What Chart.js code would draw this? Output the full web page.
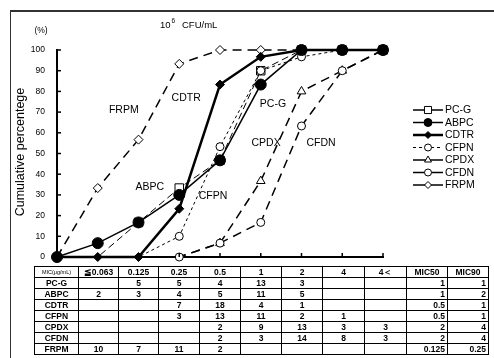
<!DOCTYPE html>
<html>
<head>
<meta charset="utf-8">
<script src="https://cdn.jsdelivr.net/npm/chart.js@4.4.1/dist/chart.umd.min.js"></script>
<style>
  html, body { margin: 0; padding: 0; background: #fff; }
  #wrap { position: relative; width: 494px; height: 358px; overflow: hidden; font-family: "Liberation Sans", Arial, sans-serif; }
  #frame { position: absolute; left: 10px; top: 10px; width: 500px; height: 400px; border-top: 2px solid #333; border-left: 1px solid #333; }
  canvas { position: absolute; left: 0; top: 0; }
  #tbl { position: absolute; left: 34px; top: 266px; border-collapse: collapse; table-layout: fixed; font-size: 8.5px; font-weight: bold; color: #000; }
  #tbl td { border: 1px solid #000; height: 10px; padding: 0; line-height: 10px; text-align: center; white-space: nowrap; overflow: hidden; }
  #tbl td.r { text-align: right; padding-right: 2px; }
  #tbl td.h0 { font-size: 5.5px; font-weight: normal; }
</style>
</head>
<body>
<div id="wrap">
  <div id="frame"></div>
  <canvas id="c" width="494" height="358"></canvas>
  <table id="tbl"></table>
</div>
<script>
// MIC steps on the x axis (first slot is the origin)
const mics = ['', '≦0.063', '0.125', '0.25', '0.5', '1', '2', '4', '4＜'];
const drugs = ['PC-G', 'ABPC', 'CDTR', 'CFPN', 'CPDX', 'CFDN', 'FRPM'];

// cumulative percentage (%)
const pcg  = [0, 0, 16.7, 33.3, 46.7, 90, 100, 100, 100];
const abpc = [0, 6.7, 16.7, 30, 46.7, 83.3, 100, 100, 100];
const cdtr = [0, 0, 0, 23.3, 83.3, 96.7, 100, 100, 100];
const cfpn = [0, 0, 0, 10, 53.3, 90, 96.7, 100, 100];
const cpdx = [0, 0, 0, 0, 6.7, 36.7, 80, 90, 100];
const cfdn = [0, 0, 0, 0, 6.7, 16.7, 63.3, 90, 100];
const frpm = [0, 33.3, 56.7, 93.3, 100, 100, 100, 100, 100];

// number of strains per MIC (table)
const nPCG  = ['', 5, 5, 4, 13, 3, '', ''];
const nABPC = [2, 3, 4, 5, 11, 5, '', ''];
const nCDTR = ['', '', 7, 18, 4, 1, '', ''];
const nCFPN = ['', '', 3, 13, 11, 2, 1, ''];
const nCPDX = ['', '', '', 2, 9, 13, 3, 3];
const nCFDN = ['', '', '', 2, 3, 14, 8, 3];
const nFRPM = [10, 7, 11, 2, '', '', '', ''];
const mic50 = ['1', '1', '0.5', '0.5', '2', '2', '0.125'];
const mic90 = ['1', '2', '1', '1', '4', '4', '0.25'];

const yTicks = [0, 10, 20, 30, 40, 50, 60, 70, 80, 90, 100];

// table
const counts = [nPCG, nABPC, nCDTR, nCFPN, nCPDX, nCFDN, nFRPM];
const widths = [44, 40, 40, 41, 41, 41, 41, 42, 42, 41, 41];
const tbl = document.getElementById('tbl');
let html = '<colgroup>' + widths.map(w => `<col style="width:${w}px">`).join('') + '</colgroup>';
html += '<tr><td class="h0">MIC(μg/mL)</td>' + mics.slice(1).map(m => `<td>${m}</td>`).join('') +
        '<td>MIC50</td><td>MIC90</td></tr>';
drugs.forEach((d, i) => {
  html += `<tr><td>${d}</td>` + counts[i].map(v => `<td>${v}</td>`).join('') +
          `<td class="r">${mic50[i]}</td><td class="r">${mic90[i]}</td></tr>`;
});
tbl.innerHTML = html;

function radii(r, hidden) {
  return mics.map((_, i) => hidden.includes(i) ? 0 : r);
}

const datasets = [
  { label: 'ABPC', data: abpc, order: -3, borderColor: '#000', borderWidth: 1.5,
    pointStyle: 'circle', pointRadius: 5.5, pointBackgroundColor: '#000', pointBorderColor: '#000' },
  { label: 'CFPN', data: cfpn, order: -2, borderColor: '#000', borderWidth: 1, borderDash: [3, 3],
    pointStyle: 'circle', pointRadius: radii(4, [0, 1, 2]), pointBackgroundColor: '#fff', pointBorderColor: '#000' },
  { label: 'PC-G', data: pcg, order: -1, borderColor: '#000', borderWidth: 1, borderDash: [7, 4],
    pointStyle: 'rect', pointRadius: radii(6, [0, 1]), pointBackgroundColor: '#fff', pointBorderColor: '#000' },
  { label: 'CDTR', data: cdtr, borderColor: '#000', borderWidth: 2.5,
    pointStyle: 'rectRot', pointRadius: radii(4.5, [0]), pointBackgroundColor: '#000', pointBorderColor: '#000' },
  { label: 'CFDN', data: cfdn, borderColor: '#000', borderWidth: 1.5, borderDash: [9, 6],
    pointStyle: 'circle', pointRadius: radii(4, [0, 1, 2]), pointBackgroundColor: '#fff', pointBorderColor: '#000' },
  { label: 'CPDX', data: cpdx, borderColor: '#000', borderWidth: 1.5, borderDash: [9, 6],
    pointStyle: 'triangle', pointRadius: radii(5, [0, 1, 2, 3]), pointBackgroundColor: '#fff', pointBorderColor: '#000' },
  { label: 'FRPM', data: frpm, borderColor: '#000', borderWidth: 1.5, borderDash: [9, 6],
    pointStyle: 'rectRot', pointRadius: radii(4.5, [0]), pointBackgroundColor: '#fff', pointBorderColor: '#000' }
];
datasets.forEach(d => { d.pointBorderWidth = 1; d.tension = 0; d.clip = false; d.fill = false; });

// legend drawn like the original: short line + marker + name
const legendItems = [
  { label: 'PC-G', style: 'rect', r: 5, fill: '#fff', lw: 1.5, dash: [] },
  { label: 'ABPC', style: 'circle', r: 4, fill: '#000', lw: 1.5, dash: [] },
  { label: 'CDTR', style: 'rectRot', r: 3.5, fill: '#000', lw: 2.5, dash: [] },
  { label: 'CFPN', style: 'circle', r: 3.5, fill: '#fff', lw: 1, dash: [3, 3] },
  { label: 'CPDX', style: 'triangle', r: 4, fill: '#fff', lw: 1.5, dash: [] },
  { label: 'CFDN', style: 'circle', r: 3.5, fill: '#fff', lw: 1.5, dash: [] },
  { label: 'FRPM', style: 'rectRot', r: 3.5, fill: '#fff', lw: 1.5, dash: [] }
];

// curve names written inside the plot: [text, x slot, y value]
const curveNames = [
  ['FRPM', 1.64, 71], ['CDTR', 3.17, 77], ['PC-G', 5.3, 74], ['CPDX', 5.13, 55],
  ['CFDN', 6.48, 55], ['ABPC', 2.28, 34], ['CFPN', 3.83, 29.5]
];

const extras = {
  id: 'extras',
  afterDraw(chart) {
    const ctx = chart.ctx;
    const xs = chart.scales.x, ys = chart.scales.y;
    const area = chart.chartArea;
    ctx.save();
    ctx.strokeStyle = '#000';
    ctx.lineWidth = 1.5;
    // inward tick marks
    yTicks.forEach(v => {
      const y = ys.getPixelForValue(v);
      ctx.beginPath(); ctx.moveTo(area.left, y); ctx.lineTo(area.left + 4, y); ctx.stroke();
    });
    mics.forEach((m, i) => {
      if (i === 0) return;
      const x = xs.getPixelForValue(i);
      ctx.beginPath(); ctx.moveTo(x, area.bottom); ctx.lineTo(x, area.bottom - 4); ctx.stroke();
    });

    ctx.fillStyle = '#000';
    ctx.textBaseline = 'middle';
    ctx.textAlign = 'center';
    ctx.font = '10.5px "Liberation Sans", Arial, sans-serif';
    curveNames.forEach(([t, xi, yv]) => {
      ctx.fillText(t, xs.getPixelForValue(xi), ys.getPixelForValue(yv));
    });

    // headers
    ctx.font = '8.5px "Liberation Sans", Arial, sans-serif';
    ctx.fillText('(%)', 41, 31);
    ctx.textAlign = 'left';
    ctx.font = '9.5px "Liberation Sans", Arial, sans-serif';
    ctx.fillText('10', 160, 25);
    ctx.font = '6.5px "Liberation Sans", Arial, sans-serif';
    ctx.fillText('6', 171.5, 21.5);
    ctx.font = '9.5px "Liberation Sans", Arial, sans-serif';
    ctx.fillText('CFU/mL', 182, 25);

    // y title
    ctx.save();
    ctx.translate(21, 152);
    ctx.rotate(-Math.PI / 2);
    ctx.textAlign = 'center';
    ctx.font = '12.5px "Liberation Sans", Arial, sans-serif';
    ctx.fillText('Cumulative percentege', 0, 0);
    ctx.restore();

    // legend
    ctx.font = '10.5px "Liberation Sans", Arial, sans-serif';
    ctx.textAlign = 'left';
    legendItems.forEach((it, i) => {
      const y = 110 + i * 12.5;
      ctx.setLineDash(it.dash);
      ctx.lineWidth = it.lw;
      ctx.beginPath(); ctx.moveTo(413, y); ctx.lineTo(443, y); ctx.stroke();
      ctx.setLineDash([]);
      ctx.lineWidth = 1;
      ctx.fillStyle = it.fill;
      Chart.helpers.drawPoint(ctx, { pointStyle: it.style, radius: it.r, rotation: 0, borderWidth: 1 }, 428, y);
      ctx.fillStyle = '#000';
      ctx.fillText(it.label, 445, y + 0.5);
    });
    ctx.restore();
  }
};

new Chart(document.getElementById('c'), {
  type: 'line',
  data: { labels: mics, datasets },
  options: {
    responsive: false,
    maintainAspectRatio: false,
    animation: false,
    layout: { padding: { left: 0, top: 50, right: 111, bottom: 101 } },
    plugins: { legend: { display: false }, tooltip: { enabled: false } },
    scales: {
      x: {
        offset: false,
        grid: { display: false },
        border: { display: true, color: '#000', width: 2 },
        ticks: { display: false },
        afterFit: s => { s.height = 0; }
      },
      y: {
        min: 0, max: 100,
        grid: { display: false, drawTicks: false },
        border: { display: true, color: '#000', width: 2 },
        ticks: {
          stepSize: 10, padding: 12, color: '#000',
          font: { family: '"Liberation Sans", Arial, sans-serif', size: 8.5 }
        },
        afterFit: s => { s.width = 57; }
      }
    }
  },
  plugins: [extras]
});
</script>
</body>
</html>
